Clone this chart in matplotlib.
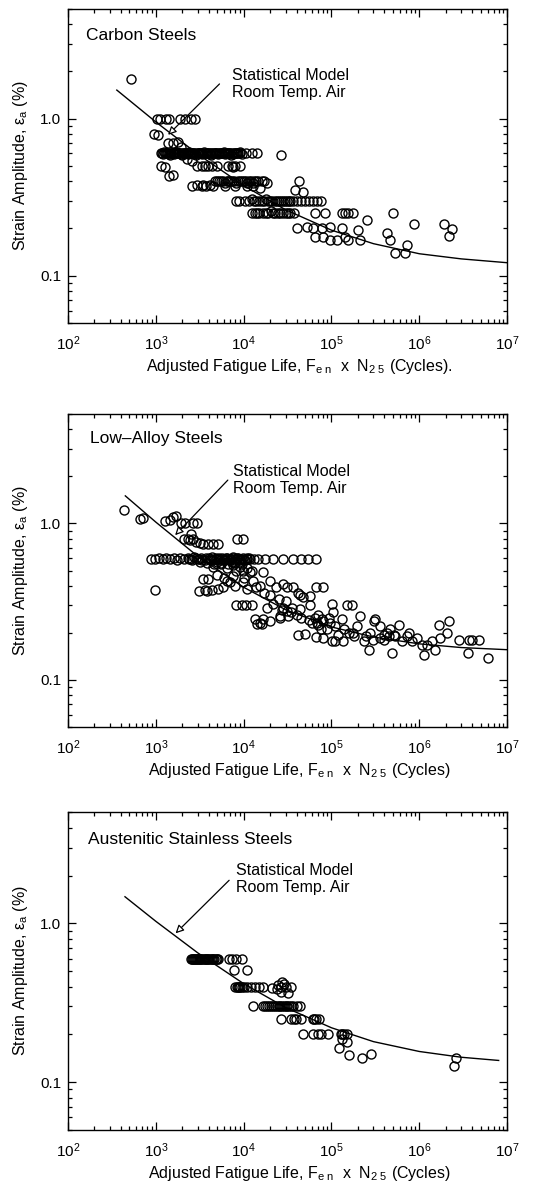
import matplotlib
matplotlib.use('Agg')
import matplotlib.pyplot as plt
from matplotlib.ticker import LogLocator, NullFormatter

plt.rcParams['font.family'] = ['Liberation Sans', 'DejaVu Sans']
plt.rcParams['mathtext.fontset'] = 'custom'
plt.rcParams['mathtext.rm'] = 'Liberation Sans'
plt.rcParams['mathtext.it'] = 'Liberation Sans:italic'

# ---- Data ----
# Carbon steels
carbon_n = [527, 1020, 1110, 1290, 1420, 1880, 2140, 2490, 2790,
            950, 1070, 1380, 1580, 1770, 1960, 2270, 2550,
            1160, 1270, 1410, 1550,
            # dense band near 0.6
            1160, 1250, 1350, 1450, 1550, 1700, 1850, 2000, 2200, 2400,
            2600, 2900, 3200, 3500, 3900, 4300, 4800, 5300, 5900, 6500,
            7200, 8000, 9000, 10500, 12500, 14200, 26500,
            1200, 1300, 1400, 1500, 1620, 1780, 1920, 2100, 2300, 2500,
            2750, 3050, 3350, 3700, 4100, 4550, 5050, 5600, 6200, 6850,
            7600, 8500, 9500,
            1180, 1280, 1380, 1480, 1580, 1660, 1740, 1820, 1960, 2050,
            2150, 2250, 2350, 2450, 2550, 2700, 2800, 3000, 3100, 3300,
            3400, 3600, 3800, 4000, 4200, 4400, 4700, 4900, 5200, 5500,
            5700, 6000, 6300, 6700, 7000, 7400, 7800, 8200, 8700, 9200,
            # near 0.5
            2910, 3320, 3620, 3950, 4320, 4920, 6690, 7300, 7620, 7960, 9080,
            # near 0.4
            2550, 2910, 3320, 3470, 3690, 4130, 4510, 4710, 5200, 5800,
            6120, 6400, 7000, 7800, 7960, 8600, 9500, 10500, 10800, 11500,
            12700, 12900, 14000, 15300, 16000, 18300,
            5000, 5500, 6100, 6700, 7400, 8200, 9000, 10000, 11000, 12000, 13200, 14600, 17000,
            # near 0.3
            8100, 8940, 10300, 11500, 12300, 14000, 16000, 18000, 20000, 22500,
            25000, 28000, 31000, 33800, 36000, 40000, 45000, 50000, 56000, 62000,
            13000, 15000, 17000, 19000, 21000, 24000, 26500, 29500, 32500, 68000, 75000,
            # near 0.25
            12300, 13500, 15000, 18000, 20500, 23000, 26000, 30000, 33800, 37000,
            65200, 84700, 131000, 143000, 156000, 178000, 501000,
            14200, 16500, 19000, 21800, 24500, 28000, 32000,
            # scattered tail
            43200, 48000, 38500, 40300, 52300, 62400, 77600, 96600, 65200, 81100,
            96600, 115000, 131000, 143000, 156000, 203000, 212000, 253000, 428000, 467000,
            532000, 692000, 723000, 861000, 1.9e6, 2.16e6, 2.36e6]
carbon_eps = [1.79, 1.0, 0.99, 1.0, 0.99, 1.0, 0.99, 1.0, 0.99,
              0.80, 0.79, 0.70, 0.70, 0.71, 0.66, 0.55, 0.54,
              0.50, 0.49, 0.43, 0.44,
              0.60, 0.61, 0.60, 0.59, 0.60, 0.61, 0.60, 0.59, 0.60, 0.61,
              0.60, 0.59, 0.60, 0.61, 0.60, 0.59, 0.60, 0.60, 0.61, 0.60,
              0.59, 0.60, 0.61, 0.60, 0.60, 0.60, 0.59,
              0.595, 0.605, 0.595, 0.605, 0.595, 0.605, 0.595, 0.605, 0.595, 0.605,
              0.595, 0.605, 0.595, 0.605, 0.595, 0.605, 0.595, 0.605, 0.595, 0.605,
              0.595, 0.605, 0.595,
              0.60, 0.60, 0.60, 0.60, 0.60, 0.60, 0.60, 0.60, 0.60, 0.60,
              0.60, 0.60, 0.60, 0.60, 0.60, 0.60, 0.60, 0.60, 0.60, 0.60,
              0.60, 0.60, 0.60, 0.60, 0.60, 0.60, 0.60, 0.60, 0.60, 0.60,
              0.60, 0.60, 0.60, 0.60, 0.60, 0.60, 0.60, 0.60, 0.60, 0.60,
              0.50, 0.50, 0.50, 0.50, 0.50, 0.50, 0.50, 0.50, 0.49, 0.50, 0.50,
              0.37, 0.38, 0.37, 0.38, 0.37, 0.38, 0.37, 0.40, 0.40, 0.40,
              0.37, 0.40, 0.40, 0.40, 0.37, 0.40, 0.40, 0.40, 0.37, 0.40,
              0.39, 0.37, 0.40, 0.36, 0.40, 0.39,
              0.40, 0.40, 0.39, 0.40, 0.40, 0.39, 0.40, 0.40, 0.39, 0.40, 0.40, 0.40, 0.40,
              0.30, 0.30, 0.30, 0.30, 0.31, 0.30, 0.30, 0.31, 0.30, 0.30,
              0.30, 0.30, 0.30, 0.30, 0.30, 0.30, 0.30, 0.30, 0.30, 0.30,
              0.30, 0.30, 0.30, 0.30, 0.30, 0.30, 0.30, 0.30, 0.30, 0.30, 0.30,
              0.25, 0.25, 0.25, 0.25, 0.26, 0.25, 0.25, 0.25, 0.25, 0.25,
              0.25, 0.25, 0.25, 0.25, 0.25, 0.25, 0.25,
              0.25, 0.25, 0.25, 0.25, 0.25, 0.25, 0.25,
              0.40, 0.34, 0.35, 0.20, 0.205, 0.20, 0.20, 0.205, 0.177, 0.177,
              0.17, 0.17, 0.20, 0.177, 0.17, 0.195, 0.17, 0.225, 0.187, 0.17,
              0.14, 0.14, 0.157, 0.215, 0.215, 0.179, 0.198]

# Low-alloy steels
lowalloy_n = [431, 668, 716, 1270, 1440, 1580, 1710, 1960, 2140, 2620, 2960,
              2090, 2340, 2430, 2540, 2660, 2900, 3170, 3470, 3940, 4510, 5120, 8320, 9860,
              # band near 0.59
              893, 970, 1080, 1200, 1320, 1450, 1600, 1750, 1900, 2100,
              2300, 2500, 2750, 3000, 3300, 3600, 4000, 4400, 4800, 5300,
              5800, 6300, 7000, 7600, 8400, 9200, 10000, 11000, 11800, 13000,
              14600, 17400, 21600, 28100, 36500, 45500, 54700, 66300,
              3200, 3800, 4200, 4600, 5000, 5500, 6000, 6600, 7300, 8000, 8800, 9600,
              2400, 2600, 2850, 3100, 3400, 3700, 4100, 4500, 4900, 5150,
              5400, 5650, 5900, 6150, 6450, 6800, 7150, 7500, 7900, 8300,
              8700, 9100, 9500, 9900, 10400, 10900, 11400,
              # cloud
              970, 3120, 3620, 3780, 4310, 3470, 3940, 5140, 5860, 6400,
              7620, 8280, 9860, 9860, 10800, 11700, 12800, 15300, 16600, 19900,
              23600, 28100,
              4500, 5500, 6500, 7500, 9000, 11000, 12500, 5000, 6000, 7000,
              8000, 10000, 14000, 17000, 20000, 25000, 30000, 27000, 35000, 40000,
              45000, 55000, 60000, 65000, 70000, 75000, 90000, 110000, 140000, 160000,
              180000, 250000, 300000, 400000, 450000,
              8130, 9460, 10600, 12300, 18300, 21800, 16700, 20000, 25900, 30900,
              13400, 14100, 15400, 16000,
              30900, 36500, 42000, 44000, 48000, 57100, 66300, 81000, 35300, 28300,
              44000, 57100, 101000, 150000, 171000, 32300, 25900, 41300, 50100, 66300,
              68100, 71100, 77600, 81000, 81000, 92500, 96600, 101000, 105000, 110000,
              120000, 131000, 137000, 178000, 194000, 212000,
              232000, 264000, 276000, 301000, 315000, 359000, 359000, 392000, 427000, 467000,
              488000, 509000, 532000, 580000, 634000, 723000, 755000, 824000, 940000, 1.07e6,
              1.12e6, 1.22e6, 1.39e6, 1.52e6, 1.66e6, 1.73e6, 2.07e6, 2.16e6, 2.81e6, 3.59e6,
              3.65e6, 3.98e6, 4.74e6, 6.08e6]
lowalloy_eps = [1.22, 1.07, 1.08, 1.03, 1.05, 1.10, 1.11, 1.0, 1.0, 1.0, 1.0,
                0.79, 0.79, 0.78, 0.86, 0.80, 0.76, 0.75, 0.74, 0.74, 0.74, 0.74, 0.79, 0.80,
                0.59, 0.59, 0.60, 0.59, 0.60, 0.59, 0.60, 0.58, 0.60, 0.59,
                0.60, 0.59, 0.61, 0.59, 0.60, 0.58, 0.60, 0.61, 0.59, 0.60,
                0.58, 0.60, 0.59, 0.61, 0.60, 0.59, 0.58, 0.60, 0.59, 0.59,
                0.59, 0.59, 0.59, 0.59, 0.59, 0.59, 0.59, 0.59,
                0.57, 0.56, 0.58, 0.55, 0.57, 0.56, 0.58, 0.55, 0.57, 0.56, 0.57, 0.55,
                0.595, 0.585, 0.60, 0.59, 0.58, 0.60, 0.59, 0.585, 0.60, 0.59,
                0.58, 0.60, 0.59, 0.585, 0.60, 0.58, 0.59, 0.60, 0.585, 0.59,
                0.60, 0.58, 0.59, 0.60, 0.585, 0.59, 0.60,
                0.375, 0.37, 0.375, 0.37, 0.375, 0.44, 0.44, 0.38, 0.39, 0.43,
                0.46, 0.50, 0.50, 0.42, 0.38, 0.49, 0.43, 0.40, 0.49, 0.43,
                0.39, 0.41,
                0.53, 0.55, 0.52, 0.54, 0.53, 0.52, 0.50, 0.47, 0.45, 0.42,
                0.40, 0.45, 0.39, 0.36, 0.35, 0.33, 0.32, 0.28, 0.27, 0.26,
                0.25, 0.24, 0.23, 0.25, 0.26, 0.21, 0.21, 0.22, 0.21, 0.20,
                0.19, 0.19, 0.18, 0.18, 0.19,
                0.30, 0.30, 0.30, 0.30, 0.29, 0.305, 0.245, 0.238, 0.256, 0.275,
                0.245, 0.229, 0.232, 0.229,
                0.39, 0.39, 0.36, 0.35, 0.34, 0.345, 0.39, 0.39, 0.29, 0.29,
                0.283, 0.30, 0.305, 0.30, 0.30, 0.256, 0.25, 0.195, 0.197, 0.187,
                0.23, 0.226, 0.245, 0.238, 0.186, 0.25, 0.23, 0.177, 0.27, 0.177,
                0.195, 0.245, 0.177, 0.20, 0.22, 0.256,
                0.177, 0.156, 0.20, 0.238, 0.245, 0.186, 0.22, 0.195, 0.20, 0.21,
                0.149, 0.195, 0.19, 0.226, 0.177, 0.19, 0.20, 0.177, 0.186, 0.168,
                0.145, 0.168, 0.177, 0.156, 0.226, 0.186, 0.20, 0.238, 0.18, 0.149,
                0.18, 0.18, 0.18, 0.138]

# Austenitic stainless steels
austenitic_n = [2500, 2650, 2800, 2950, 3100, 3300, 3500, 3700, 3900, 4200,
                4500, 4800, 5100, 6870, 7400, 8180, 9570,
                2580, 2720, 2870, 3030, 3200, 3400, 3600, 3800, 4050, 4350, 4650, 4950,
                7840, 10800,
                8030, 8600, 9200, 10000, 11000, 12200, 13500, 15000, 16400, 21300,
                24300, 26500, 30300, 34500, 26500, 32000, 27500,
                8300, 8900, 9600, 24000, 28500,
                12900, 16500, 18500, 20500, 22500, 25000, 27500, 30000, 33000, 36000,
                40000, 44000, 17500, 19500, 21500, 23800, 26200, 28700, 31500, 34500,
                26500, 34500, 39300, 44800, 60800, 66300, 72400, 37000, 63500,
                47700, 61900, 69400, 75700, 90100, 128000, 139000, 152000, 133000,
                133000, 152000, 122000, 159000, 221000, 285000, 2.59e6, 2.48e6]
austenitic_eps = [0.60, 0.60, 0.60, 0.60, 0.60, 0.60, 0.60, 0.60, 0.60, 0.60,
                  0.60, 0.60, 0.60, 0.60, 0.60, 0.60, 0.60,
                  0.60, 0.60, 0.60, 0.60, 0.60, 0.60, 0.60, 0.60, 0.60, 0.60, 0.60, 0.60,
                  0.51, 0.51,
                  0.40, 0.40, 0.40, 0.40, 0.40, 0.40, 0.40, 0.40, 0.40, 0.39,
                  0.41, 0.40, 0.40, 0.40, 0.37, 0.365, 0.43,
                  0.40, 0.40, 0.40, 0.385, 0.415,
                  0.30, 0.30, 0.30, 0.30, 0.30, 0.30, 0.30, 0.30, 0.30, 0.30,
                  0.30, 0.30, 0.30, 0.30, 0.30, 0.30, 0.30, 0.30, 0.30, 0.30,
                  0.25, 0.25, 0.25, 0.25, 0.25, 0.25, 0.25, 0.25, 0.25,
                  0.20, 0.20, 0.20, 0.20, 0.20, 0.20, 0.20, 0.20, 0.20,
                  0.186, 0.18, 0.164, 0.149, 0.142, 0.15, 0.142, 0.127]

# Statistical model curves (room temperature air)
carbon_model_n = [360, 1e3, 3e3, 1e4, 3e4, 1e5, 3e5, 1e6, 3e6, 1e7]
carbon_model_eps = [1.52, 0.953, 0.595, 0.375, 0.263, 0.195, 0.160, 0.138, 0.128, 0.121]
lowalloy_model_n = [450, 1e3, 3e3, 1e4, 3e4, 1e5, 3e5, 1e6, 3e6, 1e7]
lowalloy_model_eps = [1.50, 1.02, 0.617, 0.391, 0.281, 0.218, 0.188, 0.170, 0.161, 0.156]
austenitic_model_n = [446, 1e3, 3e3, 1e4, 3e4, 1e5, 3e5, 1e6, 3e6, 8e6]
austenitic_model_eps = [1.47, 1.03, 0.652, 0.417, 0.295, 0.220, 0.180, 0.156, 0.1435, 0.137]

titles = ['Carbon Steels', 'Low\u2013Alloy Steels', 'Austenitic Stainless Steels']
xlab = 'Adjusted Fatigue Life, F$_{\\mathregular{e\\ n}}$  x  N$_{\\mathregular{2\\ 5}}$ (Cycles)'
xlabels = [xlab + '.', xlab, xlab]

panels = [
    (carbon_n, carbon_eps, carbon_model_n, carbon_model_eps),
    (lowalloy_n, lowalloy_eps, lowalloy_model_n, lowalloy_model_eps),
    (austenitic_n, austenitic_eps, austenitic_model_n, austenitic_model_eps),
]

# axes rectangles (left, bottom, width, height) in figure fractions
rects = [[0.127, 0.7265, 0.821, 0.266],
         [0.127, 0.3844, 0.821, 0.265],
         [0.127, 0.0432, 0.821, 0.269]]
# annotation: text position, arrow start, arrow tip (axes fractions)
notes = [((0.374, 0.762), (0.345, 0.761), (0.228, 0.599)),
         ((0.376, 0.789), (0.364, 0.789), (0.244, 0.613)),
         ((0.382, 0.789), (0.367, 0.786), (0.245, 0.619))]
title_pos = [(0.041, 0.914), (0.05, 0.923), (0.046, 0.915)]

fig = plt.figure(figsize=(5.35, 11.81), dpi=100)

for i, (n, eps, mn, meps) in enumerate(panels):
    ax = fig.add_axes(rects[i])
    ax.set_xscale('log')
    ax.set_yscale('log')
    ax.plot(n, eps, 'o', mfc='none', mec='black', ms=6.5, mew=1.0)
    ax.plot(mn, meps, '-', color='black', lw=1.0)
    ax.set_xlim(1e2, 1e7)
    ax.set_ylim(0.05, 5)

    ax.xaxis.set_major_locator(LogLocator(base=10, numticks=10))
    ax.xaxis.set_minor_locator(LogLocator(base=10, subs=range(2, 10), numticks=20))
    ax.xaxis.set_minor_formatter(NullFormatter())
    ax.set_yticks([0.1, 1.0], labels=['0.1', '1.0'])
    ax.yaxis.set_minor_locator(LogLocator(base=10, subs=range(2, 10), numticks=20))
    ax.yaxis.set_minor_formatter(NullFormatter())

    ax.tick_params(which='both', direction='in', top=True, right=True, width=0.9)
    ax.tick_params(which='major', length=6, labelsize=11)
    ax.tick_params(which='minor', length=3)
    ax.tick_params(axis='x', which='major', pad=8)
    ax.tick_params(axis='y', which='major', pad=5)
    for s in ax.spines.values():
        s.set_linewidth(1.0)

    ax.set_xlabel(xlabels[i], fontsize=11.5, labelpad=3)
    ax.xaxis.label.set_x(0.528)
    ax.set_ylabel('Strain Amplitude, \u03b5$_{\\mathregular{a}}$ (%)', fontsize=11.5, labelpad=7)

    ax.text(title_pos[i][0], title_pos[i][1], titles[i], transform=ax.transAxes,
            fontsize=12.5, va='center', ha='left')
    txt, start, tip = notes[i]
    ax.text(txt[0], txt[1], 'Statistical Model\nRoom Temp. Air', transform=ax.transAxes,
            fontsize=11.5, va='center', ha='left', linespacing=1.15)
    ax.annotate('', xy=tip, xycoords='axes fraction', xytext=start, textcoords='axes fraction',
                arrowprops=dict(arrowstyle='-|>', color='black', fc='white', lw=0.9,
                                mutation_scale=12, shrinkA=0, shrinkB=0))

fig.savefig('out.png', dpi=100)
